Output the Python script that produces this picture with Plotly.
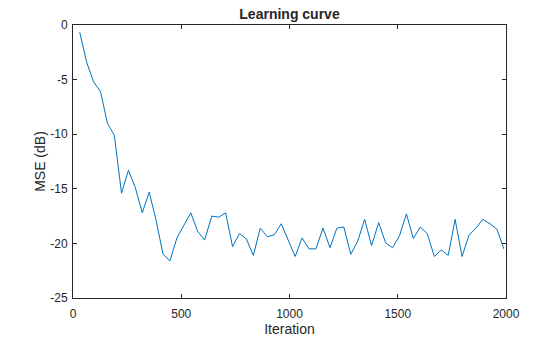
import plotly.graph_objects as go

iterations = [31, 63, 95, 127, 159, 191, 224, 256, 288, 320, 352, 384, 416, 448, 480, 512,
              544, 576, 608, 641, 673, 705, 737, 769, 801, 833, 865, 898, 930, 962, 994,
              1026, 1058, 1090, 1122, 1155, 1187, 1219, 1251, 1283, 1315, 1347, 1379, 1412,
              1444, 1476, 1508, 1540, 1572, 1604, 1636, 1669, 1701, 1733, 1765, 1797, 1829,
              1861, 1893, 1926, 1958, 1990]
mse_db = [-0.65, -3.4, -5.2, -6.1, -9.0, -10.1, -15.4, -13.3, -14.9, -17.2, -15.3, -17.9,
          -21.0, -21.6, -19.5, -18.3, -17.2, -18.9, -19.7, -17.5, -17.6, -17.2, -20.3, -19.1,
          -19.6, -21.1, -18.6, -19.4, -19.2, -18.2, -19.7, -21.2, -19.5, -20.5, -20.5, -18.6,
          -20.4, -18.6, -18.5, -21.0, -19.8, -17.8, -20.2, -18.1, -19.95, -20.4, -19.3, -17.3,
          -19.55, -18.5, -19.1, -21.2, -20.6, -21.1, -17.8, -21.2, -19.25, -18.6, -17.8,
          -18.2, -18.7, -20.5]
x_ticks = [0, 500, 1000, 1500, 2000]
y_ticks = [-25, -20, -15, -10, -5, 0]

fig = go.Figure()
fig.add_trace(go.Scatter(x=iterations, y=mse_db, mode="lines",
                         line=dict(color="#0072BD", width=1), showlegend=False))

font_family = "Liberation Sans, Arial, Helvetica, sans-serif"
axis_common = dict(showgrid=False, zeroline=False, showline=True, linecolor="#262626",
                   linewidth=1, ticks="inside", ticklen=4, tickcolor="#262626",
                   mirror="ticks", automargin=False,
                   tickfont=dict(size=12, color="#262626", family=font_family))

fig.update_layout(
    width=560, height=337,
    margin=dict(l=73, r=54, t=25, b=39),
    paper_bgcolor="white", plot_bgcolor="white",
    font=dict(family=font_family, color="#262626"),
    title=dict(text="<b>Learning curve</b>", x=0.5, xref="paper", xanchor="center",
               y=1 - 14 / 337, yref="container", yanchor="middle",
               font=dict(size=14, color="#262626", family=font_family)),
    xaxis=dict(range=[0, 2000], tickvals=x_ticks, ticktext=[str(v) for v in x_ticks],
               ticklabelstandoff=5,
               title=dict(text="Iteration", font=dict(size=14), standoff=3), **axis_common),
    yaxis=dict(range=[-25, 0], tickvals=y_ticks, ticktext=[str(v) for v in y_ticks],
               ticklabelstandoff=2,
               title=dict(text="MSE (dB)", font=dict(size=14), standoff=1), **axis_common),
)

fig.write_html("out.html")
